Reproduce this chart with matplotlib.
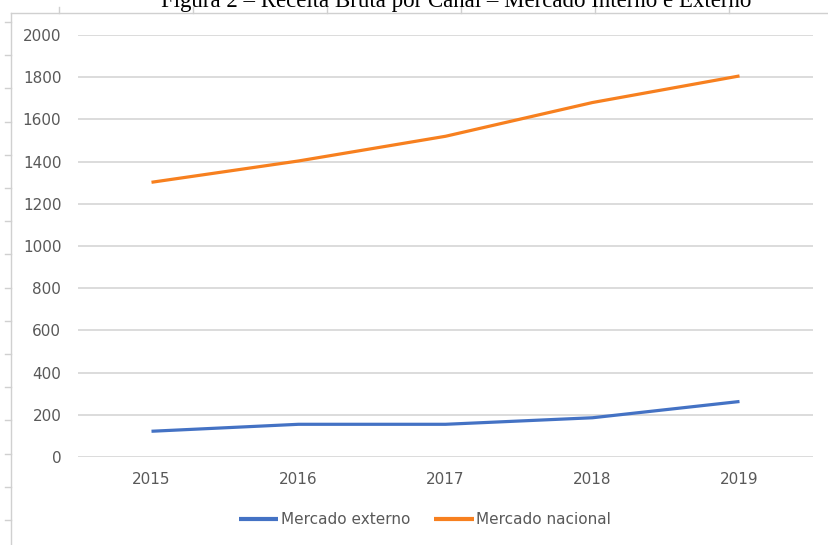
import matplotlib
matplotlib.use("Agg")
import matplotlib.pyplot as plt
import numpy as np

anos = ["2015", "2016", "2017", "2018", "2019"]
mercado_externo = [122, 155, 155, 186, 263]
mercado_nacional = [1302, 1403, 1520, 1680, 1806]
y_ticks = [0, 200, 400, 600, 800, 1000, 1200, 1400, 1600, 1800, 2000]

W, H = 829, 545
fig = plt.figure(figsize=(W / 100, H / 100), dpi=100)

# moldura da pagina (regua)
frame = fig.add_axes([0, 0, 1, 1], zorder=0)
frame.set_xlim(0, W)
frame.set_ylim(H, 0)
frame.axis("off")
cinza = "#d0d0d0"
frame.plot([11, 11], [13, H], color=cinza, lw=1)
frame.plot([11, W], [13, 13], color=cinza, lw=1)
for yy in np.arange(22, H, 33.2):
    frame.plot([5, 11], [yy, yy], color=cinza, lw=1)
for xx in np.arange(59, W, 134):
    frame.plot([xx, xx], [7, 13], color=cinza, lw=1)

# titulo cortado no topo, como na captura
fig.text(456 / W, 1 - 7 / H, "Figura 2 – Receita Bruta por Canal – Mercado Interno e Externo",
         ha="center", va="baseline", fontsize=16.5, family="Liberation Serif", color="black")

ax = fig.add_axes([78 / W, 1 - 457 / H, (813 - 78) / W, (457 - 35) / H], zorder=1)
ax.patch.set_alpha(0)
x = np.arange(len(anos))
ax.plot(x, mercado_externo, color="#4472C4", lw=2.3, label="Mercado externo", solid_capstyle="butt")
ax.plot(x, mercado_nacional, color="#F7801F", lw=2.3, label="Mercado nacional", solid_capstyle="butt")

ax.set_xlim(-0.5, len(anos) - 0.5)
ax.set_ylim(0, 2000)
ax.set_yticks(y_ticks)
ax.set_xticks(x)
ax.set_xticklabels(anos)
ax.grid(axis="y", color="#d9d9d9", lw=1.3)
ax.set_axisbelow(True)
for s in ax.spines.values():
    s.set_visible(False)
ax.tick_params(axis="both", length=0, labelsize=11, labelcolor="#595959")
ax.tick_params(axis="y", pad=12)
ax.tick_params(axis="x", pad=11)

leg = fig.legend(loc="center", bbox_to_anchor=(425 / W, 1 - 520 / H), ncol=2, frameon=False,
                 fontsize=11, handlelength=2.6, handletextpad=0.15, columnspacing=1.6)
for t in leg.get_texts():
    t.set_color("#595959")
for ln in leg.get_lines():
    ln.set_linewidth(3)

fig.savefig("out.png", dpi=100)
